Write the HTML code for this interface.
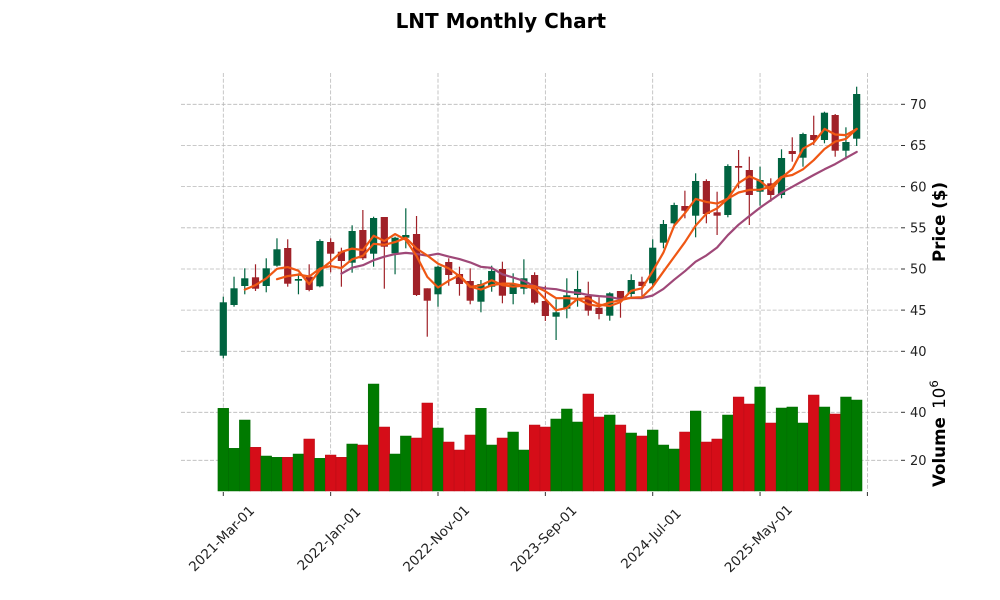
<!DOCTYPE html>
<html><head><meta charset="utf-8">
<style>
html,body{margin:0;padding:0;background:#fff;}
svg{display:block;}
</style></head>
<body>
<svg id="c" width="1000" height="600" viewBox="0 0 1000 600" xmlns="http://www.w3.org/2000/svg" font-family="'DejaVu Sans','Liberation Sans',sans-serif">
<rect x="0" y="0" width="1000" height="600" fill="#fff"/>
<g stroke="#b8b8b8" stroke-width="0.8" stroke-dasharray="4,1.8" fill="none">
  <line x1="181" x2="898" y1="104.3" y2="104.3"/>
  <line x1="181" x2="898" y1="145.5" y2="145.5"/>
  <line x1="181" x2="898" y1="186.6" y2="186.6"/>
  <line x1="181" x2="898" y1="227.8" y2="227.8"/>
  <line x1="181" x2="898" y1="269.0" y2="269.0"/>
  <line x1="181" x2="898" y1="310.1" y2="310.1"/>
  <line x1="181" x2="898" y1="351.3" y2="351.3"/>
  <line x1="181" x2="898" y1="412.3" y2="412.3"/>
  <line x1="181" x2="898" y1="460.3" y2="460.3"/>
  <line x1="223.3" x2="223.3" y1="73" y2="491"/>
  <line x1="330.65" x2="330.65" y1="73" y2="491"/>
  <line x1="438.0" x2="438.0" y1="73" y2="491"/>
  <line x1="545.35" x2="545.35" y1="73" y2="491"/>
  <line x1="652.7" x2="652.7" y1="73" y2="491"/>
  <line x1="760.05" x2="760.05" y1="73" y2="491"/>
  <line x1="867.4" x2="867.4" y1="73" y2="491"/>
</g>
<g id="vol"></g>
<g id="candles"></g>
<g id="mav"></g>

<g stroke="#333" stroke-width="1">
  <line x1="901" x2="905" y1="104.3" y2="104.3"/>
  <line x1="901" x2="905" y1="145.5" y2="145.5"/>
  <line x1="901" x2="905" y1="186.6" y2="186.6"/>
  <line x1="901" x2="905" y1="227.8" y2="227.8"/>
  <line x1="901" x2="905" y1="269.0" y2="269.0"/>
  <line x1="901" x2="905" y1="310.1" y2="310.1"/>
  <line x1="901" x2="905" y1="351.3" y2="351.3"/>
  <line x1="901" x2="905" y1="412.3" y2="412.3"/>
  <line x1="901" x2="905" y1="460.3" y2="460.3"/>
  <line x1="223.3" x2="223.3" y1="492" y2="496"/>
  <line x1="330.65" x2="330.65" y1="492" y2="496"/>
  <line x1="438.0" x2="438.0" y1="492" y2="496"/>
  <line x1="545.35" x2="545.35" y1="492" y2="496"/>
  <line x1="652.7" x2="652.7" y1="492" y2="496"/>
  <line x1="760.05" x2="760.05" y1="492" y2="496"/>
  <line x1="867.4" x2="867.4" y1="492" y2="496"/>
</g>
<g font-size="13" fill="#222">
  <text x="910" y="109">70</text>
  <text x="910" y="150.2">65</text>
  <text x="910" y="191.3">60</text>
  <text x="910" y="232.5">55</text>
  <text x="910" y="273.7">50</text>
  <text x="910" y="314.8">45</text>
  <text x="910" y="356">40</text>
  <text x="910" y="417">40</text>
  <text x="910" y="465">20</text>
</g>
<g font-size="13.5" fill="#222" text-anchor="middle" dominant-baseline="central">
  <text transform="translate(222,539) rotate(-45)">2021-Mar-01</text>
  <text transform="translate(329.35,539) rotate(-45)">2022-Jan-01</text>
  <text transform="translate(436.7,539) rotate(-45)">2022-Nov-01</text>
  <text transform="translate(544.05,539) rotate(-45)">2023-Sep-01</text>
  <text transform="translate(651.4,539) rotate(-45)">2024-Jul-01</text>
  <text transform="translate(758.75,539) rotate(-45)">2025-May-01</text>
</g>
<text x="500.8" y="28" text-anchor="middle" font-size="20" font-weight="bold" fill="#000">LNT Monthly Chart</text>
<text transform="translate(945,262) rotate(-90)" font-size="16.7" font-weight="bold" fill="#000">Price ($)</text>
<text transform="translate(945,487) rotate(-90)" font-size="16.7" fill="#000"><tspan font-weight="bold">Volume</tspan><tspan dx="3"> 10</tspan><tspan font-size="11.7" dy="-7">6</tspan></text>
</svg>
<script>
(function(){
var C=[
[1,302.3,355.7,296.7,358.3],[1,288.3,305,276.7,306.7],[1,278.3,286,268.3,294.3],[0,277.3,288.7,264.3,291],
[1,268.3,286,258.3,292.3],[1,249.3,265.7,238.3,266.7],[0,248,283.7,239.3,286.7],[1,279,280.7,273.3,294.3],
[0,276.7,290,264.3,291.3],[1,241,286.3,239.3,287.3],[0,242,253.7,238.3,272.3],[0,251.7,261,247.7,286.7],
[1,231,262.7,225.3,272.7],[0,230,258.3,210,260],[1,218,253.7,216.7,266.7],[0,217,246.7,217,288.7],
[1,237.7,253.3,236.7,274.3],[1,235,237.7,208.3,248.3],[0,234,295,216,296],[0,288.3,300.7,288.3,336.7],
[1,266.7,294.3,265.7,306.7],[0,262,275,258.3,285.7],[0,274,284,266.7,295.7],[0,281,300.7,268.3,304.3],
[1,284,301.7,280,312.3],[1,271,286.7,265.7,291.7],[0,269,295.7,261.7,303.3],[1,284.3,294,273.3,304.3],
[1,278.3,288.7,259.3,294.3],[0,275,302.7,272.3,304.3],[0,301,316,285.7,321],[1,312.3,316.7,299.3,340],
[1,295.3,308.7,278.3,318.3],[1,289,295,270.7,306.7],[0,296,310.7,281.7,315.7],[0,307.7,314,297.3,319.3],
[1,293.3,315.7,292.3,320.7],[0,291,299,291,317.7],[1,280,294,274.3,297.3],[0,281.7,286,276.7,299],
[1,247.7,283.3,239.3,286.7],[1,224,242.7,220,248.3],[1,205,223.3,202.7,225],[0,206,210.7,190.7,218.3],
[1,181,215.7,173.3,237.3],[0,181,214,179.3,223.3],[0,212.3,215.7,191.7,235],[1,166,215,164.3,217.3],
[0,166,167.7,150,188.3],[0,170,195,156.7,225],[1,180,191.7,166.7,205.7],[0,183.3,195,178.3,201.7],
[1,158,195,149.3,198.3],[0,151,154,137.3,161.7],[1,134,157.7,132.7,166.7],[0,135,140,115.7,145],
[1,112.7,140,111.7,143.3],[0,115,150.7,114,156.7],[1,142,150.7,127.3,159.3],[1,94,138.7,86.7,146]
];
var V=[
[408.3,1],[448.3,1],[420,1],[447.3,0],[456,1],[457.3,1],[457.3,0],[454,1],[439,0],[458.3,1],
[455,0],[457.3,0],[444,1],[445,0],[384,1],[427,0],[454,1],[436,1],[438,0],[403,0],
[428,1],[442,0],[450,0],[435,0],[408.3,1],[445,1],[438,0],[432,1],[450,1],[425,0],
[427,0],[419,1],[409,1],[422,1],[394,0],[417,0],[415,1],[425,0],[433,1],[436,0],
[430,1],[445,1],[449,1],[432,0],[411,1],[442,0],[439,0],[415,1],[397,0],[404,0],
[387,1],[423,0],[408,1],[407,1],[423,1],[395,0],[407,1],[414,0],[397,1],[400,1]
];
var ns='http://www.w3.org/2000/svg';
function el(tag,a,p){var e=document.createElementNS(ns,tag);for(var k in a)e.setAttribute(k,a[k]);p.appendChild(e);return e;}
var gv=document.getElementById('vol'),gc=document.getElementById('candles'),gm=document.getElementById('mav');
function X(i){return 223.3+10.735*i;}
V.forEach(function(v,i){var up=v[1]===1;
  el('rect',{x:(X(i)-5.37).toFixed(2),y:v[0],width:10.735,height:(491-v[0]).toFixed(2),fill:up?'#007a00':'#d50d18',stroke:up?'#006a00':'#b80b15','stroke-width':0.5},gv);});
C.forEach(function(c,i){var col=c[0]?'#006340':'#a02128';
  el('line',{x1:X(i),x2:X(i),y1:c[3],y2:c[4],stroke:col,'stroke-width':1.2},gc);
  el('rect',{x:(X(i)-3.6).toFixed(2),y:c[1],width:7.2,height:Math.max(c[2]-c[1],1.3).toFixed(2),fill:col},gc);});
var closes=C.map(function(c){return c[0]?c[1]:c[2];});
function ma(n,color){var pts=[];for(var i=n-1;i<closes.length;i++){var s=0;for(var j=i-n+1;j<=i;j++)s+=closes[j];pts.push(X(i).toFixed(1)+','+(s/n).toFixed(1));}
  el('polyline',{points:pts.join(' '),fill:'none',stroke:color,'stroke-width':2.2,'stroke-linejoin':'round','stroke-linecap':'round'},gm);}
ma(12,'#9f4878');ma(6,'#ef5714');ma(3,'#ef5714');
})();
</script>
</body></html>
